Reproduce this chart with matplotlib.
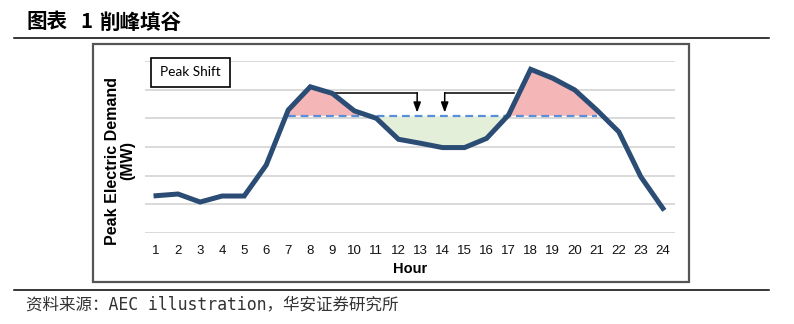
import matplotlib.pyplot as plt
from matplotlib.patches import Rectangle
from matplotlib.lines import Line2D

# hourly demand curve and the flattened target level
hours = list(range(1, 25))
demand = [1.30, 1.36, 1.08, 1.29, 1.29, 2.37, 4.29, 5.10, 4.87, 4.26, 4.00, 3.27,
          3.13, 2.98, 2.98, 3.30, 4.12, 5.71, 5.40, 4.99, 4.29, 3.53, 1.96, 0.86]
target_level = 4.09
shift_start, shift_end = 7, 21
hour_labels = [str(h) for h in hours]

title_parts = ["图表", "1", "削峰填谷"]
source = "资料来源：AEC illustration，华安证券研究所"

W, H = 794, 324


def fx(x):
    return x / W


def fy(y):
    return 1 - y / H


fig = plt.figure(figsize=(W / 100, H / 100), dpi=100)

# page header / footer
for part, x in zip(title_parts, [26, 80, 99]):
    fig.text(fx(x), fy(22), part, fontsize=14.8, fontweight="bold",
             family=["Noto Sans CJK SC", "DejaVu Sans"], va="center", ha="left")
fig.add_artist(Line2D([fx(14), fx(769)], [fy(38), fy(38)], color="black", lw=1.1))
fig.add_artist(Line2D([fx(14), fx(769)], [fy(290), fy(290)], color="black", lw=1.1))
fig.text(fx(26), fy(304), source, fontsize=11.9, color="#333333",
         family=["DejaVu Sans Mono", "Noto Sans CJK SC"], va="center", ha="left")

# frame around the chart
fig.add_artist(Rectangle((fx(93), fy(282)), fx(596), 238 / H, fill=False,
                         edgecolor="#555555", lw=1.6))

ax = fig.add_axes([fx(145), fy(233), fx(530), 172 / H])
ax.set_xlim(0.5, 24.55)
ax.set_ylim(0, 6)
for s in ax.spines.values():
    s.set_visible(False)
ax.set_yticks(range(0, 7))
ax.set_yticklabels([])
ax.yaxis.grid(True, color="#d9d9d9", lw=1.4)
ax.set_axisbelow(True)
ax.tick_params(length=0)
ax.set_xticks(hours)
ax.set_xticklabels(hour_labels, fontsize=9.5, color="#111111",
                   family=["Liberation Sans", "DejaVu Sans"])
ax.tick_params(axis="x", pad=9)
ax.set_xlabel("Hour", fontsize=10.5, fontweight="bold",
              family=["Liberation Sans", "DejaVu Sans"], labelpad=3)

# peak / valley shading against the target level
xs = hours[shift_start - 1:shift_end]
ys = demand[shift_start - 1:shift_end]
ax.fill_between(xs, ys, target_level, where=[v >= target_level for v in ys],
                interpolate=True, color="#f4b6b6", lw=0)
ax.fill_between(xs, ys, target_level, where=[v <= target_level for v in ys],
                interpolate=True, color="#e3efd9", lw=0)
ax.plot([shift_start, shift_end], [target_level, target_level], color="#5b8ed8",
        lw=1.6, dashes=(3.5, 2.2))

ax.plot(hours, demand, color="#2b4c74", lw=3.6, solid_joinstyle="miter", zorder=5)

# shift arrows: from the morning / evening peaks down into the valley
arrow_y = 4.89
for x0, x1 in [(9.0, 12.85), (17.25, 14.1)]:
    ax.plot([x0, x1], [arrow_y, arrow_y], color="black", lw=1.1, zorder=4)
    ax.annotate("", xy=(x1, 4.2), xytext=(x1, arrow_y),
                arrowprops=dict(arrowstyle="-|>,head_width=0.22,head_length=0.6",
                                color="black", lw=1.1, shrinkA=0, shrinkB=0), zorder=4)

# "Peak Shift" label box
fig.add_artist(Rectangle((fx(151), fy(87)), fx(79), 29 / H, facecolor="white",
                         edgecolor="black", lw=1.2))
fig.text(fx(190.5), fy(72.5), "Peak Shift", fontsize=9.8,
         family=["Lato", "DejaVu Sans"], ha="center", va="center")

fig.text(fx(120), fy(161), "Peak Electric Demand\n(MW)", rotation=90, fontsize=11.5,
         fontweight="bold", ha="center", va="center", linespacing=1.0,
         family=["Liberation Sans", "DejaVu Sans"])

fig.savefig("out.png", dpi=100)
